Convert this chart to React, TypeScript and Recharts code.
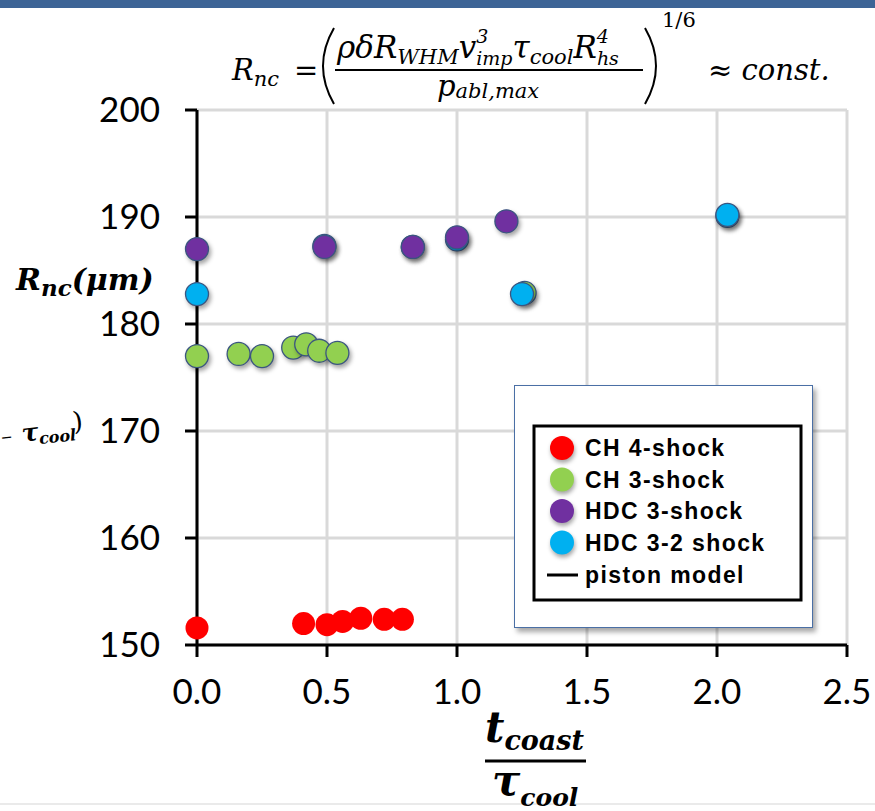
import React from 'react';
import {
  ScatterChart,
  Scatter,
  XAxis,
  YAxis,
  CartesianGrid,
  Legend,
} from 'recharts';

// t_coast / tau_cool and R_nc (um) for each campaign
const ch4X = [0.0, 0.41, 0.5, 0.56, 0.63, 0.72, 0.79];
const ch4Y = [151.6, 152.0, 151.9, 152.2, 152.5, 152.4, 152.4];

const ch3X = [0.0, 0.16, 0.25, 0.37, 0.42, 0.47, 0.54, 1.26, 2.04];
const ch3Y = [177.0, 177.2, 177.0, 177.8, 178.1, 177.5, 177.3, 182.9, 190.1];

const hdc3X = [0.0, 0.49, 0.83, 1.0, 1.19];
const hdc3Y = [187.0, 187.2, 187.2, 188.1, 189.6];

const hdc32X = [0.0, 0.49, 0.83, 1.0, 1.25, 2.04];
const hdc32Y = [182.8, 187.3, 187.2, 187.9, 182.8, 190.2];

const xTicks = [0, 0.5, 1.0, 1.5, 2.0, 2.5];
const yTicks = [150, 160, 170, 180, 190, 200];

const legendNames = ['CH 4-shock', 'CH 3-shock', 'HDC 3-shock', 'HDC 3-2 shock'];
const legendColors = ['#FF0000', '#92D050', '#7030A0', '#00B0F0'];

const zip = (xs: number[], ys: number[]) => xs.map((x, i) => ({ x, y: ys[i] }));

const W = 875;
const H = 811;

const Dot = (fill: string, outlined: boolean) => (props: any) => {
  const { cx, cy } = props;
  if (cx == null || cy == null) return <g />;
  return (
    <circle
      cx={cx}
      cy={cy}
      r={11.5}
      fill={fill}
      stroke={outlined ? '#3b5680' : 'none'}
      strokeWidth={1.3}
      style={outlined ? { filter: 'drop-shadow(2px 3px 2px rgba(0,0,0,0.35))' } : undefined}
    />
  );
};

const legendFont = 'Liberation Sans, Arial, sans-serif';

const LegendBox = () => (
  <div
    style={{
      position: 'relative',
      width: 299,
      height: 243,
      boxSizing: 'border-box',
      border: '1.5px solid #4a6fa5',
      background: '#fff',
      boxShadow: '3px 4px 5px rgba(0,0,0,0.35)',
    }}
  >
    <svg width={299} height={243} style={{ position: 'absolute', left: -1.5, top: -1.5 }}>
      <rect x={20} y={41} width={267} height={174} fill="none" stroke="#000" strokeWidth={3} />
      {legendNames.map((name, i) => (
        <g key={name}>
          <circle
            cx={48}
            cy={63 + i * 31.5}
            r={12}
            fill={legendColors[i]}
            style={{ filter: 'drop-shadow(1px 3px 2px rgba(0,0,0,0.35))' }}
          />
          <text
            x={71}
            y={63 + i * 31.5 + 8}
            fontFamily={legendFont}
            fontWeight="bold"
            fontSize={23}
            letterSpacing={1.4}
            fill="#000"
          >
            {name}
          </text>
        </g>
      ))}
      <line x1={33} x2={64} y1={190} y2={190} stroke="#000" strokeWidth={3} />
      <text x={71} y={198} fontFamily={legendFont} fontWeight="bold" fontSize={23} letterSpacing={1.4} fill="#000">
        piston model
      </text>
    </svg>
  </div>
);

const serif = 'DejaVu Serif, serif';

export default function App() {
  return (
    <div style={{ position: 'absolute', left: 0, top: 0, width: W, height: H, background: '#fff', overflow: 'hidden' }}>
      <ScatterChart width={W} height={H} margin={{ top: 110, right: 28, left: 0, bottom: 0 }}>
        <CartesianGrid stroke="#d9d9d9" strokeWidth={3} />
        <XAxis
          type="number"
          dataKey="x"
          domain={[0, 2.5]}
          ticks={xTicks}
          tickFormatter={(v: number) => v.toFixed(1)}
          height={166}
          axisLine={{ stroke: '#000', strokeWidth: 3 }}
          tickLine={{ stroke: '#000', strokeWidth: 3 }}
          tickSize={12}
          tickMargin={22}
          tick={{ fontSize: 35, fontFamily: 'Lato, sans-serif', fill: '#000' }}
          interval={0}
        />
        <YAxis
          type="number"
          dataKey="y"
          domain={[150, 200]}
          ticks={yTicks}
          width={197}
          axisLine={{ stroke: '#000', strokeWidth: 3 }}
          tickLine={{ stroke: '#000', strokeWidth: 3 }}
          tickSize={12}
          tickMargin={25}
          tick={{ fontSize: 35, fontFamily: 'Lato, sans-serif', fill: '#000' }}
          interval={0}
        />
        <Scatter name="CH 3-shock" data={zip(ch3X, ch3Y)} shape={Dot('#92D050', true)} isAnimationActive={false} />
        <Scatter name="HDC 3-2 shock" data={zip(hdc32X, hdc32Y)} shape={Dot('#00B0F0', true)} isAnimationActive={false} />
        <Scatter name="HDC 3-shock" data={zip(hdc3X, hdc3Y)} shape={Dot('#7030A0', true)} isAnimationActive={false} />
        <Scatter name="CH 4-shock" data={zip(ch4X, ch4Y)} shape={Dot('#FF0000', false)} isAnimationActive={false} />
        <Legend
          layout="horizontal"
          verticalAlign="middle"
          align="center"
          content={() => <LegendBox />}
          wrapperStyle={{ left: 514, top: 385, width: 299, height: 243 }}
        />
      </ScatterChart>

      {/* title formula, axis titles and page decorations */}
      <svg width={W} height={H} style={{ position: 'absolute', left: 0, top: 0, pointerEvents: 'none' }}>
        <rect x={0} y={0} width={W} height={8} fill="#3d6496" />
        <line x1={0} x2={W} y1={804} y2={804} stroke="#e3e3e3" strokeWidth={1.5} />

        <g fontFamily={serif} fontStyle="italic" fill="#000">
          <text x={232} y={80} fontSize={29}>
            R<tspan fontSize={21} dy={6}>nc</tspan>
          </text>
          <text x={294} y={80} fontSize={29} fontStyle="normal">=</text>
          <path d="M 334 28 Q 312 66 334 104" fill="none" stroke="#000" strokeWidth={2} />
          <path d="M 645 28 Q 667 66 645 104" fill="none" stroke="#000" strokeWidth={2} />
          <text x={337} y={58} fontSize={31}>
            ρδR<tspan fontSize={21} dy={6}>WHM</tspan>
            <tspan dy={-6}>v</tspan>
            <tspan fontSize={19} dy={-15}>3</tspan>
            <tspan fontSize={19} dy={22} dx={-12}>imp</tspan>
            <tspan dy={-7}>τ</tspan>
            <tspan fontSize={21} dy={6}>cool</tspan>
            <tspan dy={-6}>R</tspan>
            <tspan fontSize={19} dy={-15}>4</tspan>
            <tspan fontSize={19} dy={22} dx={-12}>hs</tspan>
          </text>
          <line x1={335} x2={643} y1={70} y2={70} stroke="#000" strokeWidth={2} />
          <text x={437} y={96} fontSize={29}>
            p<tspan fontSize={21} dy={2}>abl,max</tspan>
          </text>
          <text x={662} y={27} fontSize={21} fontStyle="normal">1/6</text>
          <text x={708} y={80} fontSize={29}>
            <tspan fontStyle="normal">≈ </tspan>const.
          </text>
        </g>

        {/* y-axis title */}
        <text x={16} y={290} fontFamily={serif} fontStyle="italic" fontWeight="bold" fontSize={30} fill="#000">
          R<tspan fontSize={23} dy={6}>nc</tspan>
          <tspan dy={-6}>(μm)</tspan>
        </text>

        {/* fragment of neighbouring text at the left edge */}
        <g transform="rotate(-6 40 436)" fontFamily={serif} fill="#000">
          <text x={1} y={440} fontSize={22}>–</text>
          <text x={22} y={440} fontSize={25} fontStyle="italic" fontWeight="bold">
            τ<tspan fontSize={16} dy={4}>cool</tspan>
          </text>
          <text x={74} y={434} fontSize={26}>)</text>
        </g>

        {/* x-axis title as a fraction */}
        <g fontFamily={serif} fontStyle="italic" fontWeight="bold" fill="#000">
          <text x={485} y={742} fontSize={42}>
            t<tspan fontSize={27} dy={8}>coast</tspan>
          </text>
          <line x1={485} x2={586} y1={761} y2={761} stroke="#000" strokeWidth={3} />
          <text x={492} y={795} fontSize={42}>
            τ<tspan fontSize={25} dy={11}>cool</tspan>
          </text>
        </g>
      </svg>
    </div>
  );
}
